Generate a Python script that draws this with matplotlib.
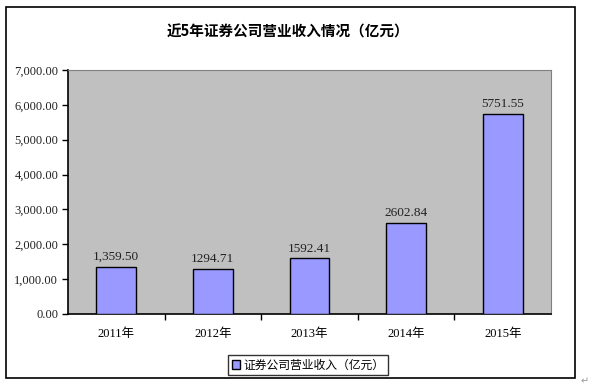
import matplotlib
matplotlib.use("Agg")
import matplotlib.pyplot as plt
from matplotlib.patches import Rectangle
from matplotlib.ticker import FuncFormatter, MultipleLocator

plt.rcParams['font.family'] = ['Noto Sans CJK SC', 'DejaVu Sans']

categories = ["2011年", "2012年", "2013年", "2014年", "2015年"]
values = [1359.50, 1294.71, 1592.41, 2602.84, 5751.55]
value_labels = ["1,359.50", "1294.71", "1592.41", "2602.84", "5751.55"]
series_name = "证券公司营业收入（亿元）"
title = "近5年证券公司营业收入情况（亿元）"

W, H = 592, 390
fig = plt.figure(figsize=(W / 100, H / 100), dpi=100)

# outer frame
fig.patches.append(Rectangle((6 / W, 1 - 378 / H), 569 / W, 371 / H, transform=fig.transFigure,
                             fill=False, edgecolor='black', linewidth=1.2))
fig.text(585 / W, 1 - 381 / H, "↵", color='#999999', fontsize=7, ha='center', va='center')

num_font = ['Liberation Serif', 'DejaVu Sans']

ax = fig.add_axes([68 / W, 1 - 314 / H, (551 - 68) / W, (314 - 70) / H])
ax.set_facecolor('#C0C0C0')
x = list(range(len(categories)))
bars = ax.bar(x, values, width=0.41, color='#9999FF', edgecolor='black', linewidth=1.0, zorder=3)
for xi, v, lab in zip(x, values, value_labels):
    ax.text(xi, v + 110, lab, ha='center', va='bottom', fontsize=9.5, color='#222222',
            family=num_font)

ax.set_xlim(-0.5, len(categories) - 0.5)
ax.set_ylim(0, 7000)
ax.yaxis.set_major_locator(MultipleLocator(1000))
ax.yaxis.set_major_formatter(FuncFormatter(lambda v, p: f"{v:,.2f}"))
ax.set_xticks(x)
ax.set_xticklabels(categories, fontsize=9, family=['Liberation Serif', 'Noto Sans CJK SC'])
for lab in ax.get_yticklabels():
    lab.set_fontsize(9)
    lab.set_family(num_font)
    lab.set_color('#222222')
ax.tick_params(axis='x', length=0, pad=10)
ax.tick_params(axis='y', length=4, direction='out', width=1, pad=3)
# category boundary ticks
ax.set_xticks([i + 0.5 for i in range(len(categories) - 1)], minor=True)
ax.tick_params(axis='x', which='minor', length=4, direction='out', width=1)

ax.spines['left'].set_color('black')
ax.spines['bottom'].set_color('black')
ax.spines['left'].set_linewidth(1.2)
ax.spines['bottom'].set_linewidth(1.2)
ax.spines['top'].set_color('#808080')
ax.spines['right'].set_color('#808080')

fig.text(288 / W, 1 - 32 / H, title, ha='center', va='center', fontsize=10.5, fontweight='bold')

leg = fig.legend([bars], [series_name], loc='center', bbox_to_anchor=(308 / W, 1 - 365 / H),
                 fontsize=8.5, frameon=True, fancybox=False, edgecolor='black',
                 handlelength=0.7, handleheight=0.7, handletextpad=0.3, borderpad=0.3)
leg.get_frame().set_linewidth(1.0)

fig.savefig("out.png", dpi=100)
